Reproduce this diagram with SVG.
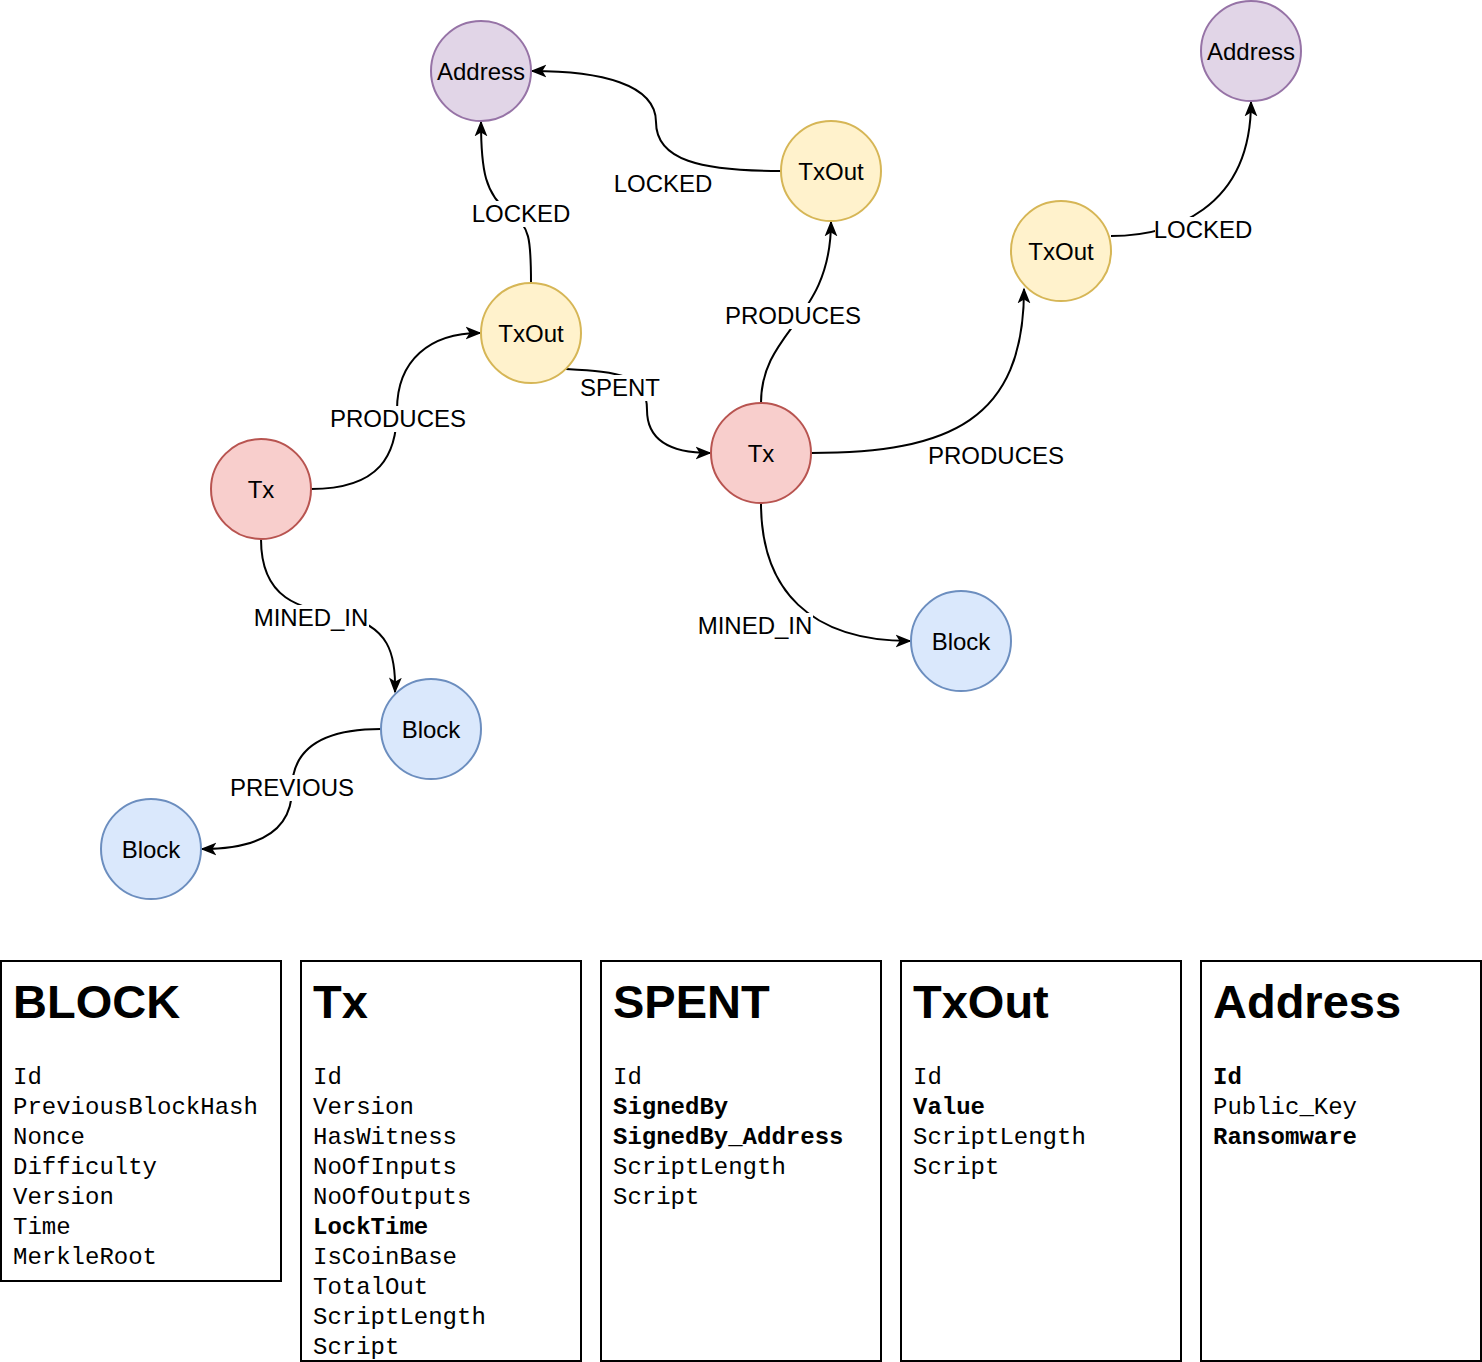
<svg xmlns="http://www.w3.org/2000/svg" width="1482" height="1362" viewBox="0 0 1482 1362">
<style>
.n text{font-family:"Liberation Sans",Arial,sans-serif;font-size:24px;text-anchor:middle;dominant-baseline:central;fill:#000}
.addr circle{fill:#e1d5e7;stroke:#9673a6;stroke-width:2}
.txo circle{fill:#fff2cc;stroke:#d6b656;stroke-width:2}
.tx circle{fill:#f8cecc;stroke:#b85450;stroke-width:2}
.blk circle{fill:#dae8fc;stroke:#6c8ebf;stroke-width:2}
#edges path{fill:none;stroke:#000;stroke-width:2;marker-end:url(#ah)}
.lbl{font-family:"Liberation Sans",Arial,sans-serif;font-size:24px;text-anchor:middle;dominant-baseline:central;fill:#000}
.bg{fill:#fff}
.tbl rect{fill:#fff;stroke:#000;stroke-width:2}
.tt{font-family:"Liberation Sans",Arial,sans-serif;font-size:47px;font-weight:bold}
.f{font-family:"Liberation Mono","Courier New",monospace;font-size:24px}
.b{font-weight:bold}
</style>
<defs>
<marker id="ah" viewBox="0 0 20 20" refX="18" refY="10" markerWidth="16" markerHeight="16" markerUnits="userSpaceOnUse" orient="auto">
<path d="M0,2 L20,10 L0,18 L5,10 Z" fill="#000"/>
</marker>
</defs>
<rect width="1482" height="1362" fill="#fff"/>
<g id="edges">
<path d="M531,283 C531,240 530,225 510,213 C485,195 481,170 481,122"/>
<path d="M781,171 C700,171 656,160 656,122 C656,84 600,71 532,71"/>
<path d="M761,403 C761,330 831,320 831,222"/>
<path d="M811,453 C950,453 1024,420 1024,289"/>
<path d="M1111,236 C1170,236 1251,210 1251,102"/>
<path d="M311,489 C380,489 397,455 397,410 C397,360 430,333 480,333"/>
<path d="M566,369 C620,372 647,375 647,410 C647,440 670,453 710,453"/>
<path d="M761,503 C761,590 810,641 910,641"/>
<path d="M261,539 C261,600 300,608 340,615 C390,625 396,655 395,692"/>
<path d="M381,729 C320,729 292,750 292,789 C292,830 260,849 202,849"/>
<rect class="bg" x="471" y="201" width="100" height="26"/>
<text class="lbl" x="521" y="213">LOCKED</text>
<text class="lbl" x="663" y="183">LOCKED</text>
<rect class="bg" x="725" y="303" width="137" height="26"/>
<text class="lbl" x="793" y="315">PRODUCES</text>
<text class="lbl" x="996" y="455">PRODUCES</text>
<rect class="bg" x="1155" y="217" width="97" height="26"/>
<text class="lbl" x="1203" y="229">LOCKED</text>
<rect class="bg" x="330" y="406" width="137" height="26"/>
<text class="lbl" x="398" y="418">PRODUCES</text>
<rect class="bg" x="579" y="375" width="82" height="26"/>
<text class="lbl" x="620" y="387">SPENT</text>
<rect class="bg" x="697" y="613" width="116" height="26"/>
<text class="lbl" x="755" y="625">MINED_IN</text>
<rect class="bg" x="253" y="605" width="116" height="26"/>
<text class="lbl" x="311" y="617">MINED_IN</text>
<rect class="bg" x="229" y="775" width="126" height="26"/>
<text class="lbl" x="292" y="787">PREVIOUS</text>
</g>
<g id="address1" class="n addr"><circle cx="481" cy="71" r="50"/><text x="481" y="71">Address</text></g>
<g id="address2" class="n addr"><circle cx="1251" cy="51" r="50"/><text x="1251" y="51">Address</text></g>
<g id="txout1" class="n txo"><circle cx="831" cy="171" r="50"/><text x="831" y="171">TxOut</text></g>
<g id="txout2" class="n txo"><circle cx="1061" cy="251" r="50"/><text x="1061" y="251">TxOut</text></g>
<g id="txout3" class="n txo"><circle cx="531" cy="333" r="50"/><text x="531" y="333">TxOut</text></g>
<g id="tx1" class="n tx"><circle cx="261" cy="489" r="50"/><text x="261" y="489">Tx</text></g>
<g id="tx2" class="n tx"><circle cx="761" cy="453" r="50"/><text x="761" y="453">Tx</text></g>
<g id="block1" class="n blk"><circle cx="961" cy="641" r="50"/><text x="961" y="641">Block</text></g>
<g id="block2" class="n blk"><circle cx="431" cy="729" r="50"/><text x="431" y="729">Block</text></g>
<g id="block3" class="n blk"><circle cx="151" cy="849" r="50"/><text x="151" y="849">Block</text></g>
<g id="tbl-block" class="tbl">
<rect x="1" y="961" width="280" height="320"/>
<text class="tt" x="13" y="1018">BLOCK</text>
<text class="f" x="13" y="1084">Id</text>
<text class="f" x="13" y="1114">PreviousBlockHash</text>
<text class="f" x="13" y="1144">Nonce</text>
<text class="f" x="13" y="1174">Difficulty</text>
<text class="f" x="13" y="1204">Version</text>
<text class="f" x="13" y="1234">Time</text>
<text class="f" x="13" y="1264">MerkleRoot</text>
</g>
<g id="tbl-tx" class="tbl">
<rect x="301" y="961" width="280" height="400"/>
<text class="tt" x="313" y="1018">Tx</text>
<text class="f" x="313" y="1084">Id</text>
<text class="f" x="313" y="1114">Version</text>
<text class="f" x="313" y="1144">HasWitness</text>
<text class="f" x="313" y="1174">NoOfInputs</text>
<text class="f" x="313" y="1204">NoOfOutputs</text>
<text class="f b" x="313" y="1234">LockTime</text>
<text class="f" x="313" y="1264">IsCoinBase</text>
<text class="f" x="313" y="1294">TotalOut</text>
<text class="f" x="313" y="1324">ScriptLength</text>
<text class="f" x="313" y="1354">Script</text>
</g>
<g id="tbl-spent" class="tbl">
<rect x="601" y="961" width="280" height="400"/>
<text class="tt" x="613" y="1018">SPENT</text>
<text class="f" x="613" y="1084">Id</text>
<text class="f b" x="613" y="1114">SignedBy</text>
<text class="f b" x="613" y="1144">SignedBy_Address</text>
<text class="f" x="613" y="1174">ScriptLength</text>
<text class="f" x="613" y="1204">Script</text>
</g>
<g id="tbl-txout" class="tbl">
<rect x="901" y="961" width="280" height="400"/>
<text class="tt" x="913" y="1018">TxOut</text>
<text class="f" x="913" y="1084">Id</text>
<text class="f b" x="913" y="1114">Value</text>
<text class="f" x="913" y="1144">ScriptLength</text>
<text class="f" x="913" y="1174">Script</text>
</g>
<g id="tbl-address" class="tbl">
<rect x="1201" y="961" width="280" height="400"/>
<text class="tt" x="1213" y="1018">Address</text>
<text class="f b" x="1213" y="1084">Id</text>
<text class="f" x="1213" y="1114">Public_Key</text>
<text class="f b" x="1213" y="1144">Ransomware</text>
</g>
</svg>
